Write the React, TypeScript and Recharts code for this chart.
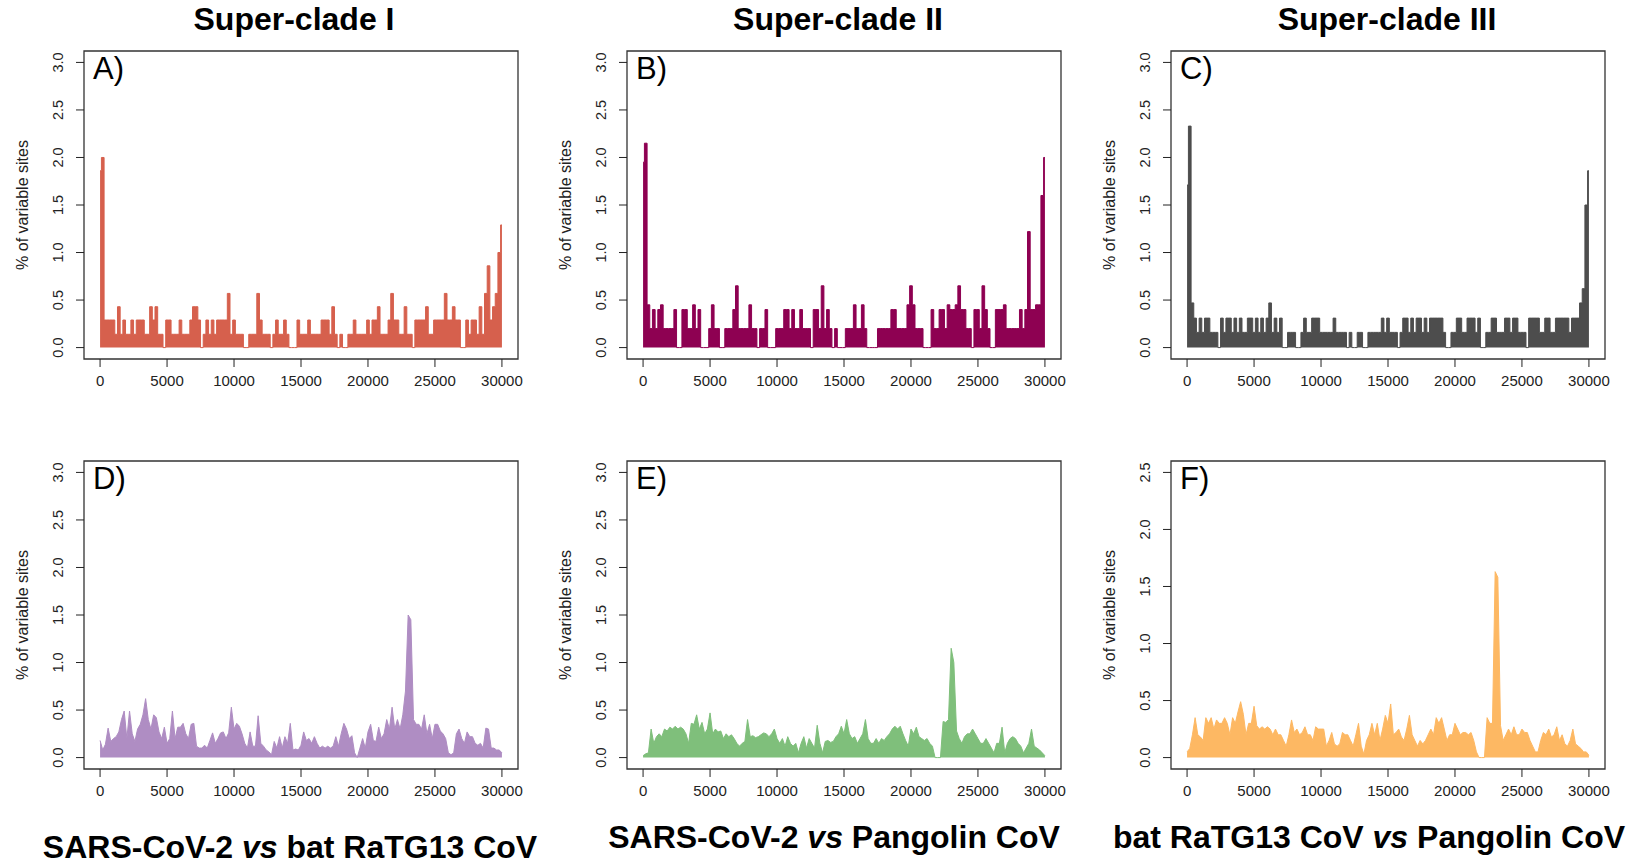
import { Area, AreaChart, ReferenceArea, XAxis, YAxis } from 'recharts'

// window start positions along the genome (bp)
const positions = [
	0, 200, 400, 600, 800, 1000, 1200, 1400, 1600, 1800,
	2000, 2200, 2400, 2600, 2800, 3000, 3200, 3400, 3600, 3800,
	4000, 4200, 4400, 4600, 4800, 5000, 5200, 5400, 5600, 5800,
	6000, 6200, 6400, 6600, 6800, 7000, 7200, 7400, 7600, 7800,
	8000, 8200, 8400, 8600, 8800, 9000, 9200, 9400, 9600, 9800,
	10000, 10200, 10400, 10600, 10800, 11000, 11200, 11400, 11600, 11800,
	12000, 12200, 12400, 12600, 12800, 13000, 13200, 13400, 13600, 13800,
	14000, 14200, 14400, 14600, 14800, 15000, 15200, 15400, 15600, 15800,
	16000, 16200, 16400, 16600, 16800, 17000, 17200, 17400, 17600, 17800,
	18000, 18200, 18400, 18600, 18800, 19000, 19200, 19400, 19600, 19800,
	20000, 20200, 20400, 20600, 20800, 21000, 21200, 21400, 21600, 21800,
	22000, 22200, 22400, 22600, 22800, 23000, 23200, 23400, 23600, 23800,
	24000, 24200, 24400, 24600, 24800, 25000, 25200, 25400, 25600, 25800,
	26000, 26200, 26400, 26600, 26800, 27000, 27200, 27400, 27600, 27800,
	28000, 28200, 28400, 28600, 28800, 29000, 29200, 29400, 29600, 29800,
	30000,
]

// Super-clade I
const clade1 = [
	1.86, 2.0, 0.29, 0.29, 0.29, 0.29, 0.14, 0.43, 0.14, 0.29,
	0.14, 0.14, 0.29, 0.14, 0.29, 0.29, 0.29, 0.14, 0.14, 0.43,
	0.29, 0.43, 0.14, 0.14, 0, 0.29, 0.29, 0.14, 0.14, 0.14,
	0.29, 0.14, 0.14, 0.14, 0.29, 0.43, 0.43, 0.29, 0, 0.14,
	0.29, 0.14, 0.29, 0.14, 0.29, 0.29, 0.29, 0.29, 0.57, 0.14,
	0.29, 0.14, 0.14, 0.14, 0, 0, 0.14, 0.14, 0.14, 0.57,
	0.29, 0.14, 0.14, 0.14, 0, 0.14, 0.29, 0.14, 0.14, 0.29,
	0.14, 0, 0, 0, 0.29, 0.14, 0.14, 0.14, 0.29, 0.14,
	0.14, 0.14, 0.14, 0.29, 0.29, 0.29, 0.14, 0.43, 0.14, 0,
	0.14, 0, 0, 0.14, 0.14, 0.29, 0.14, 0.14, 0.14, 0.14,
	0.29, 0.14, 0.29, 0.29, 0.43, 0.14, 0.14, 0.14, 0.29, 0.57,
	0.29, 0.29, 0.14, 0.14, 0.43, 0.14, 0.14, 0, 0.29, 0.29,
	0.29, 0.29, 0.43, 0.14, 0.14, 0.29, 0.29, 0.29, 0.29, 0.57,
	0.29, 0.29, 0.43, 0.29, 0.29, 0, 0, 0.29, 0.14, 0.29,
	0.29, 0.14, 0.43, 0.14, 0.57, 0.86, 0.29, 0.43, 0.57, 1.0,
	1.29,
]

// Super-clade II
const clade2 = [
	1.95, 2.15, 0.45, 0.2, 0.4, 0.2, 0.4, 0.45, 0.2, 0.2,
	0.2, 0.2, 0.4, 0, 0, 0.4, 0.4, 0.2, 0.2, 0.45,
	0.2, 0.4, 0, 0, 0, 0.2, 0.45, 0.2, 0.2, 0,
	0, 0.2, 0.2, 0.2, 0.4, 0.65, 0.2, 0.2, 0.2, 0.2,
	0.45, 0.2, 0.2, 0, 0.2, 0.2, 0.4, 0, 0, 0,
	0.2, 0.2, 0.2, 0.4, 0.4, 0.2, 0.4, 0.2, 0.2, 0.4,
	0.2, 0.2, 0.2, 0, 0.4, 0.4, 0.2, 0.65, 0.2, 0.4,
	0.2, 0, 0.2, 0, 0, 0, 0.2, 0.2, 0.2, 0.45,
	0.2, 0.2, 0.45, 0.2, 0, 0, 0, 0, 0.2, 0.2,
	0.2, 0.2, 0.2, 0.4, 0.4, 0.2, 0.2, 0.2, 0.2, 0.45,
	0.65, 0.45, 0.2, 0.2, 0.2, 0, 0, 0, 0.4, 0.2,
	0.2, 0.4, 0.4, 0.2, 0.45, 0.4, 0.4, 0.45, 0.65, 0.4,
	0.4, 0.2, 0.2, 0, 0.4, 0.4, 0.2, 0.65, 0.4, 0.2,
	0, 0, 0.4, 0.4, 0.4, 0.45, 0.2, 0.2, 0.2, 0.2,
	0.2, 0.4, 0.2, 0.4, 1.22, 0.4, 0.4, 0.45, 0.45, 1.6,
	2.0,
]

// Super-clade III
const clade3 = [
	1.71, 2.33, 0.47, 0.31, 0.16, 0.31, 0.16, 0.31, 0.31, 0.16,
	0.16, 0.16, 0, 0.31, 0.16, 0.31, 0.31, 0.16, 0.31, 0.16,
	0.31, 0.16, 0.16, 0.31, 0.31, 0.16, 0.31, 0.16, 0.31, 0.16,
	0.31, 0.47, 0.16, 0.31, 0.16, 0.31, 0, 0, 0.16, 0.16,
	0.16, 0, 0, 0.16, 0.31, 0.16, 0.16, 0.31, 0.31, 0.31,
	0.16, 0.16, 0.16, 0.16, 0.16, 0.31, 0.16, 0.16, 0.16, 0.16,
	0, 0.16, 0, 0, 0.16, 0.16, 0, 0, 0.16, 0.16,
	0.16, 0.16, 0.16, 0.31, 0.16, 0.31, 0.16, 0.16, 0.16, 0,
	0.16, 0.31, 0.31, 0.16, 0.31, 0.16, 0.31, 0.31, 0.16, 0.31,
	0.16, 0.31, 0.31, 0.31, 0.31, 0.31, 0.16, 0, 0, 0.16,
	0.16, 0.31, 0.31, 0.16, 0.16, 0.31, 0.31, 0.31, 0.16, 0.31,
	0, 0, 0.16, 0.16, 0.31, 0.31, 0.16, 0.16, 0.16, 0.31,
	0.31, 0.16, 0.31, 0.31, 0.16, 0.16, 0.16, 0, 0.31, 0.31,
	0.31, 0.31, 0.16, 0.16, 0.31, 0.31, 0.16, 0.16, 0.31, 0.31,
	0.31, 0.31, 0.31, 0.16, 0.31, 0.31, 0.31, 0.47, 0.62, 1.5,
	1.86,
]

// SARS-CoV-2 vs bat RaTG13 CoV
const sarsVsBat = [
	0.18, 0.08, 0.14, 0.31, 0.17, 0.2, 0.22, 0.27, 0.4, 0.49,
	0.2, 0.49, 0.25, 0.17, 0.3, 0.35, 0.45, 0.62, 0.4, 0.3,
	0.45, 0.42, 0.27, 0.2, 0.32, 0.15, 0.2, 0.49, 0.2, 0.32,
	0.32, 0.36, 0.25, 0.2, 0.35, 0.36, 0.12, 0.1, 0.1, 0.13,
	0.1, 0.18, 0.26, 0.15, 0.2, 0.26, 0.27, 0.2, 0.26, 0.53,
	0.3, 0.36, 0.33, 0.25, 0.15, 0.1, 0.27, 0.12, 0.12, 0.44,
	0.15, 0.12, 0.08, 0.06, 0.03, 0.17, 0.1, 0.22, 0.1, 0.22,
	0.15, 0.36, 0.08, 0.09, 0.08, 0.13, 0.27, 0.18, 0.2, 0.15,
	0.22, 0.15, 0.1, 0.12, 0.1, 0.12, 0.1, 0.12, 0.22, 0.12,
	0.25, 0.36, 0.3, 0.2, 0.23, 0.05, 0, 0.1, 0.2, 0.1,
	0.27, 0.35, 0.18, 0.17, 0.32, 0.2, 0.25, 0.4, 0.3, 0.53,
	0.3, 0.4, 0.3, 0.45, 0.7, 1.5, 1.45, 0.4, 0.35, 0.35,
	0.3, 0.45, 0.25, 0.35, 0.2, 0.35, 0.35, 0.28, 0.25, 0.2,
	0.05, 0.03, 0.05, 0.25, 0.3, 0.2, 0.15, 0.27, 0.22, 0.22,
	0.15, 0.13, 0.15, 0.1, 0.31, 0.3, 0.1, 0.1, 0.08, 0.08,
	0.05,
]

// SARS-CoV-2 vs Pangolin CoV
const sarsVsPangolin = [
	0.02, 0.04, 0.05, 0.3, 0.15, 0.22, 0.25, 0.22, 0.3, 0.28,
	0.32, 0.3, 0.33, 0.3, 0.32, 0.3, 0.25, 0.15, 0.36, 0.35,
	0.45, 0.3, 0.37, 0.25, 0.3, 0.47, 0.25, 0.3, 0.27, 0.28,
	0.2, 0.25, 0.22, 0.24, 0.2, 0.15, 0.12, 0.15, 0.17, 0.4,
	0.22, 0.23, 0.21, 0.22, 0.24, 0.26, 0.25, 0.22, 0.25, 0.3,
	0.2, 0.15, 0.2, 0.12, 0.22, 0.15, 0.12, 0.15, 0.05, 0.15,
	0.22, 0.1, 0.2, 0.15, 0.1, 0.34, 0.15, 0.05, 0.17, 0.18,
	0.16, 0.17, 0.22, 0.25, 0.33, 0.25, 0.4, 0.25, 0.2, 0.22,
	0.15, 0.2, 0.25, 0.4, 0.2, 0.15, 0.15, 0.2, 0.15, 0.2,
	0.18, 0.22, 0.25, 0.3, 0.33, 0.3, 0.33, 0.25, 0.18, 0.12,
	0.3, 0.25, 0.32, 0.22, 0.2, 0.18, 0.2, 0.15, 0.12, 0,
	0, 0, 0.38, 0.37, 0.4, 1.15, 1.0, 0.28, 0.2, 0.15,
	0.22, 0.25, 0.25, 0.3, 0.25, 0.2, 0.15, 0.15, 0.2, 0.15,
	0.1, 0.05, 0.15, 0.15, 0.32, 0.05, 0.15, 0.2, 0.22, 0.2,
	0.15, 0.12, 0.05, 0.1, 0.15, 0.3, 0.12, 0.1, 0.08, 0.05,
	0.02,
]

// bat RaTG13 CoV vs Pangolin CoV
const batVsPangolin = [
	0.05, 0.08, 0.2, 0.35, 0.2, 0.18, 0.15, 0.35, 0.3, 0.35,
	0.25, 0.33, 0.3, 0.3, 0.35, 0.3, 0.2, 0.35, 0.3, 0.4,
	0.49, 0.38, 0.2, 0.3, 0.3, 0.45, 0.28, 0.25, 0.27, 0.25,
	0.27, 0.25, 0.2, 0.25, 0.2, 0.2, 0.15, 0.1, 0.2, 0.33,
	0.22, 0.25, 0.2, 0.22, 0.27, 0.2, 0.2, 0.15, 0.27, 0.25,
	0.25, 0.25, 0.1, 0.15, 0.22, 0.12, 0.1, 0.12, 0.22, 0.2,
	0.2, 0.15, 0.1, 0.2, 0.3, 0.1, 0.03, 0.15, 0.2, 0.3,
	0.2, 0.3, 0.15, 0.25, 0.37, 0.3, 0.47, 0.2, 0.22, 0.25,
	0.18, 0.15, 0.25, 0.37, 0.2, 0.15, 0.1, 0.15, 0.12, 0.15,
	0.2, 0.25, 0.2, 0.35, 0.3, 0.35, 0.25, 0.15, 0.2, 0.2,
	0.3, 0.25, 0.2, 0.22, 0.22, 0.2, 0.22, 0.15, 0.05, 0,
	0, 0, 0.35, 0.3, 0.3, 1.63, 1.58, 0.28, 0.15, 0.2,
	0.25, 0.2, 0.27, 0.2, 0.2, 0.25, 0.22, 0.22, 0.15, 0.1,
	0.05, 0.05, 0.15, 0.22, 0.2, 0.25, 0.18, 0.2, 0.27, 0.15,
	0.2, 0.12, 0.1, 0.15, 0.25, 0.12, 0.1, 0.08, 0.05, 0.05,
	0.02,
]

const xTicks = [0, 5000, 10000, 15000, 20000, 25000, 30000]
const yTicks3 = [0, 0.5, 1, 1.5, 2, 2.5, 3]
const yTicks25 = [0, 0.5, 1, 1.5, 2, 2.5]
const topTitles = ['Super-clade I', 'Super-clade II', 'Super-clade III']
const bottomTitles = [
	['SARS-CoV-2', 'bat RaTG13 CoV'],
	['SARS-CoV-2', 'Pangolin CoV'],
	['bat RaTG13 CoV', 'Pangolin CoV'],
]
const yTitle = '% of variable sites'

const table = positions.map((pos, i) => ({
	pos,
	A: clade1[i],
	B: clade2[i],
	C: clade3[i],
	D: sarsVsBat[i],
	E: sarsVsPangolin[i],
	F: batVsPangolin[i],
}))

const FONT = '"Liberation Sans", Arial, Helvetica, sans-serif'
const colLeft = [84, 627, 1171]
const rowTop = [51, 461]
const BOX_W = 434
const BOX_H = 308

const panels = [
	{ key: 'A', col: 0, row: 0, color: '#d6604d', yMax: 3, ticks: yTicks3, curve: 'step' },
	{ key: 'B', col: 1, row: 0, color: '#8e0152', yMax: 3, ticks: yTicks3, curve: 'step' },
	{ key: 'C', col: 2, row: 0, color: '#4d4d4d', yMax: 3, ticks: yTicks3, curve: 'step' },
	{ key: 'D', col: 0, row: 1, color: '#af8dc3', yMax: 3, ticks: yTicks3, curve: 'linear' },
	{ key: 'E', col: 1, row: 1, color: '#7fbf7b', yMax: 3, ticks: yTicks3, curve: 'linear' },
	{ key: 'F', col: 2, row: 1, color: '#fdb863', yMax: 2.5, ticks: yTicks25, curve: 'linear' },
]

const XTick = ({ x, y, payload }: any) => (
	<text x={x} y={y} dy='0.71em' textAnchor='middle' fontSize={15} fill='#222' fontFamily={FONT}>
		{payload.value}
	</text>
)

const YTick = ({ x, y, payload }: any) => (
	<text
		x={x}
		y={y}
		transform={`rotate(-90 ${x} ${y})`}
		textAnchor='middle'
		fontSize={14.5}
		fill='#222'
		fontFamily={FONT}
	>
		{Number(payload.value).toFixed(1)}
	</text>
)

const YTitle = ({ viewBox }: any) => {
	const vb = viewBox || { x: 0, y: 20, width: 84, height: BOX_H }
	const x = vb.x + 28
	const y = vb.y + vb.height / 2
	return (
		<text x={x} y={y} transform={`rotate(-90 ${x} ${y})`} textAnchor='middle' fontSize={16} fill='#222' fontFamily={FONT}>
			{yTitle}
		</text>
	)
}

const Letter = ({ viewBox, text }: any) => {
	const vb = viewBox || { x: 84, y: 20 }
	return (
		<text x={vb.x + 9} y={vb.y + 28} fontSize={31} fill='#000' fontFamily={FONT}>
			{text}
		</text>
	)
}

const Panel = ({ p }: any) => {
	const pad = p.yMax * 0.04
	return (
		<div style={{ position: 'absolute', left: colLeft[p.col] - 84, top: rowTop[p.row] - 20 }}>
			<AreaChart
				width={84 + BOX_W + 10}
				height={20 + BOX_H + 45}
				data={table}
				margin={{ top: 20, right: 10, bottom: 0, left: 0 }}
			>
				<XAxis
					dataKey='pos'
					type='number'
					domain={[-1200, 31200]}
					ticks={xTicks}
					interval={0}
					allowDataOverflow
					height={45}
					tickSize={8}
					tickMargin={8}
					axisLine={false}
					tickLine={{ stroke: '#222' }}
					tick={<XTick />}
				/>
				<YAxis
					type='number'
					domain={[-pad, p.yMax + pad]}
					ticks={p.ticks}
					interval={0}
					allowDataOverflow
					width={84}
					tickSize={8}
					tickMargin={13}
					axisLine={false}
					tickLine={{ stroke: '#222' }}
					tick={<YTick />}
					label={<YTitle />}
				/>
				<Area
					type={p.curve}
					dataKey={p.key}
					baseValue={0}
					stroke={p.color}
					strokeWidth={1}
					fill={p.color}
					fillOpacity={1}
					dot={false}
					activeDot={false}
					isAnimationActive={false}
				/>
				<ReferenceArea
					x1={-1200}
					x2={31200}
					y1={-pad}
					y2={p.yMax + pad}
					fill='none'
					stroke='#333'
					strokeWidth={1.3}
					ifOverflow='visible'
					label={<Letter text={`${p.key})`} />}
				/>
			</AreaChart>
		</div>
	)
}

const topX = [294, 838, 1387]
const bottomX = [290, 834, 1369]
const bottomY = [858, 848, 848]

export default function App() {
	return (
		<div style={{ position: 'relative', width: 1635, height: 865, background: '#fff', fontFamily: FONT }}>
			<style>{'body{margin:0;background:#fff}'}</style>
			<svg width={1635} height={865} style={{ position: 'absolute', left: 0, top: 0 }}>
				{topTitles.map((t, i) => (
					<text key={t} x={topX[i]} y={30} textAnchor='middle' fontSize={32} fontWeight='bold' fill='#000' fontFamily={FONT}>
						{t}
					</text>
				))}
				{bottomTitles.map((t, i) => (
					<text key={i} x={bottomX[i]} y={bottomY[i]} textAnchor='middle' fontSize={32} fontWeight='bold' fill='#000' fontFamily={FONT}>
						{t[0]} <tspan fontStyle='italic'>vs</tspan> {t[1]}
					</text>
				))}
			</svg>
			{panels.map(p => (
				<Panel key={p.key} p={p} />
			))}
		</div>
	)
}
